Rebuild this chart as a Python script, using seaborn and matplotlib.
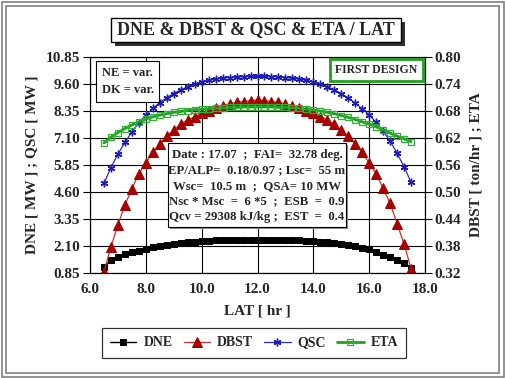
"""
DNE & DBST & QSC & ETA / LAT
----------------------------
Daily profile of the first design.
"""

# Libraries
import numpy as np
import pandas as pd
import seaborn as sns
import matplotlib.pyplot as plt
from matplotlib.patches import Rectangle

# -------------------------
# Data
# -------------------------
lat = np.arange(6.5, 17.51, 0.25)

dne = [1.15, 1.45, 1.60, 1.71, 1.80, 1.89, 1.97, 2.04, 2.10, 2.15, 2.20, 2.24,
       2.27, 2.30, 2.32, 2.34, 2.36, 2.37, 2.38, 2.39, 2.40, 2.40, 2.40, 2.40,
       2.40, 2.39, 2.38, 2.37, 2.36, 2.34, 2.32, 2.30, 2.27, 2.24, 2.19, 2.14,
       2.08, 2.02, 1.95, 1.84, 1.70, 1.58, 1.47, 1.32, 1.10]

dbst = [0.323, 0.378, 0.427, 0.471, 0.507, 0.541, 0.564, 0.588, 0.607, 0.624,
        0.638, 0.651, 0.660, 0.667, 0.675, 0.681, 0.687, 0.692, 0.696, 0.699,
        0.701, 0.703, 0.704, 0.703, 0.701, 0.699, 0.696, 0.692, 0.687, 0.681,
        0.675, 0.667, 0.660, 0.651, 0.638, 0.624, 0.607, 0.588, 0.564, 0.541,
        0.508, 0.475, 0.430, 0.384, 0.330]

qsc = [5.00, 5.73, 6.35, 6.90, 7.38, 7.80, 8.16, 8.47, 8.74, 8.97, 9.16, 9.33,
       9.48, 9.60, 9.70, 9.77, 9.83, 9.87, 9.90, 9.92, 9.94, 9.95, 9.95, 9.95,
       9.94, 9.92, 9.90, 9.87, 9.83, 9.77, 9.70, 9.60, 9.48, 9.33, 9.16, 8.95,
       8.72, 8.45, 8.18, 7.82, 7.42, 6.96, 6.39, 5.77, 5.05]

eta = [0.609, 0.622, 0.632, 0.641, 0.649, 0.656, 0.662, 0.667, 0.671, 0.674,
       0.677, 0.679, 0.681, 0.683, 0.684, 0.685, 0.686, 0.687, 0.688, 0.688,
       0.689, 0.689, 0.689, 0.689, 0.689, 0.688, 0.688, 0.687, 0.686, 0.684,
       0.682, 0.680, 0.677, 0.674, 0.670, 0.666, 0.661, 0.656, 0.651, 0.645,
       0.638, 0.631, 0.624, 0.618, 0.612]

left_ticks = [0.85, 2.10, 3.35, 4.60, 5.85, 7.10, 8.35, 9.60, 10.85]
right_ticks = [0.32, 0.38, 0.44, 0.50, 0.56, 0.62, 0.68, 0.74, 0.80]
x_ticks = [6.0, 8.0, 10.0, 12.0, 14.0, 16.0, 18.0]

info = ("Date : 17.07  ;  FAI=  32.78 deg.\n"
        "EP/ALP=  0.18/0.97 ; Lsc=  55 m\n"
        "Wsc=  10.5 m  ;  QSA= 10 MW\n"
        "Nsc * Msc  =  6 *5  ;  ESB  =  0.9\n"
        "Qcv = 29308 kJ/kg ;  EST  =  0.4")

df = pd.DataFrame({'LAT': lat, 'DNE': dne, 'DBST': dbst, 'QSC': qsc, 'ETA': eta})

# -------------------------
# Configuration
# -------------------------
sns.set_style("white")
plt.rcParams['font.family'] = ['Liberation Serif', 'DejaVu Serif']
plt.rcParams['font.weight'] = 'bold'
plt.rcParams['axes.labelweight'] = 'bold'

W, H = 505, 378

# Create figure
fig = plt.figure(figsize=(W / 100, H / 100), dpi=100)
fig.patch.set_facecolor('white')
ax = fig.add_axes([90 / W, 1 - 273 / H, 335 / W, 216 / H])
ax2 = ax.twinx()

# -------------------------
# Plot
# -------------------------
sns.lineplot(data=df, x='LAT', y='DNE', ax=ax, color='black', lw=1,
             marker='s', markersize=5, markeredgecolor='black', label='DNE')
sns.lineplot(data=df, x='LAT', y='QSC', ax=ax, color='#2a2ad0', lw=0.9,
             marker=(6, 2, 0), markersize=5.5, markeredgecolor='#1a1ab8',
             markeredgewidth=1, label='QSC')
sns.lineplot(data=df, x='LAT', y='DBST', ax=ax2, color='#d03030', lw=0.9,
             marker='^', markersize=6.5, markerfacecolor='#a80000',
             markeredgecolor='#a80000', label='DBST')
sns.lineplot(data=df, x='LAT', y='ETA', ax=ax2, color='#20a020', lw=2,
             marker='s', markersize=4.5, markerfacecolor='none',
             markeredgecolor='#30b030', markeredgewidth=0.9, label='ETA')

# Axes
ax.set_xlim(6.0, 18.0)
ax.set_ylim(0.85, 10.85)
ax2.set_ylim(0.32, 0.80)
ax.set_xticks(x_ticks)
ax.set_xticklabels(['%.1f' % v for v in x_ticks])
ax.set_yticks(left_ticks)
ax.set_yticklabels(['%.2f' % v for v in left_ticks])
ax2.set_yticks(right_ticks)
ax2.set_yticklabels(['%.2f' % v for v in right_ticks])
ax.grid(True, color='black', lw=0.8)
ax.set_axisbelow(True)
for a in (ax, ax2):
    a.tick_params(direction='out', length=5, width=0.8, color='black',
                  labelsize=11, pad=2)
    for s in a.spines.values():
        s.set_color('black')
        s.set_linewidth(0.8)
ax.set_xlabel('LAT [ hr ]', fontsize=11, labelpad=6)
ax.set_ylabel('DNE [ MW ] ; QSC [ MW ]', fontsize=11, labelpad=5)
ax2.set_ylabel('DBST [ ton/hr ] ; ETA', fontsize=11, labelpad=6)
for lab in ax.get_xticklabels() + ax.get_yticklabels() + ax2.get_yticklabels():
    lab.set_fontweight('bold')

# Legend
h1, l1 = ax.get_legend_handles_labels()
h2, l2 = ax2.get_legend_handles_labels()
ax.get_legend().remove()
ax2.get_legend().remove()
hd = dict(zip(l1 + l2, h1 + h2))
order = ['DNE', 'DBST', 'QSC', 'ETA']
leg = fig.legend([hd[k] for k in order], order, loc='center',
                 bbox_to_anchor=(254 / W, 1 - 343 / H), ncol=4, fontsize=10,
                 frameon=True, fancybox=False, edgecolor='black',
                 handlelength=1.9, columnspacing=0.8, handletextpad=0.5,
                 borderpad=0.6)
leg.get_frame().set_linewidth(0.9)

# Boxes inside the axes
ax.text(0.035, 0.955, "NE = var.\nDK = var.", transform=ax.transAxes,
        ha='left', va='top', fontsize=9, linespacing=1.6, zorder=10,
        bbox=dict(boxstyle='square,pad=0.45', fc='white', ec='black', lw=0.8))
ax.text(0.855, 0.94, "FIRST DESIGN", transform=ax.transAxes, ha='center',
        va='center', fontsize=8.5, zorder=10,
        bbox=dict(boxstyle='square,pad=0.45', fc='white', ec='#20a020', lw=2))

# Info box with shadow
fig.add_artist(Rectangle((170 / W, 1 - 229 / H), 178 / W, 84 / H,
                         transform=fig.transFigure, fc='#909090',
                         ec='none', zorder=5))
fig.add_artist(Rectangle((168 / W, 1 - 227 / H), 178 / W, 84 / H,
                         transform=fig.transFigure, fc='white',
                         ec='black', lw=0.8, zorder=6))
fig.text(257 / W, 1 - 186 / H, info, ha='center', va='center', fontsize=9.2,
         linespacing=1.38, zorder=7)

# Title box with shadow
fig.add_artist(Rectangle((115 / W, 1 - 46 / H), 290 / W, 24 / H,
                         transform=fig.transFigure, fc='#303030',
                         ec='none', zorder=5))
fig.add_artist(Rectangle((111 / W, 1 - 42 / H), 290 / W, 24 / H,
                         transform=fig.transFigure, fc='white',
                         ec='black', lw=1, zorder=6))
fig.text(256 / W, 1 - 30 / H, "DNE & DBST & QSC & ETA / LAT", ha='center',
         va='center', fontsize=13, zorder=7)

# Double frame around the figure
fig.add_artist(Rectangle((1.5 / W, 1.5 / H), 502 / W, 375 / H,
                         transform=fig.transFigure, fc='none',
                         ec='#808080', lw=1.2))
fig.add_artist(Rectangle((6 / W, 5 / H), 493 / W, 367 / H,
                         transform=fig.transFigure, fc='none',
                         ec='#808080', lw=1.2))

# Save
plt.savefig('out.png', dpi=100)
